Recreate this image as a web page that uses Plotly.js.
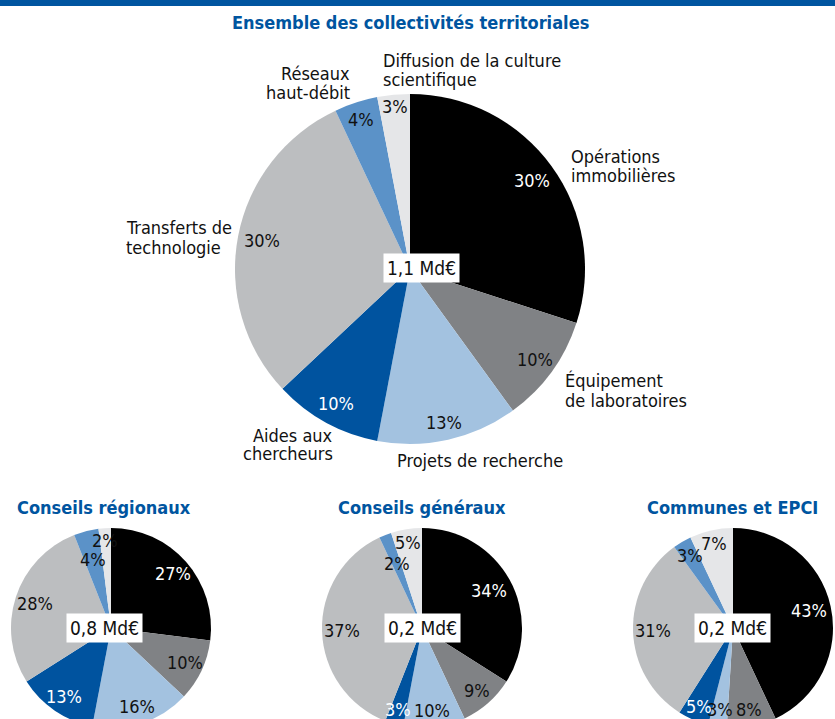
<!DOCTYPE html>
<html><head><meta charset="utf-8">
<script src="https://cdn.plot.ly/plotly-3.0.1.min.js"></script>
<style>html,body{margin:0;padding:0;overflow:hidden;background:#fff}#chart{width:835px;height:740px}
#chart text{font-stretch:condensed !important}</style>
</head><body><div id="chart"></div><script>
// ---- data ----
const categories = ["Opérations<br>immobilières","Équipement<br>de laboratoires","Projets de recherche","Aides aux<br>chercheurs","Transferts de<br>technologie","Réseaux<br>haut-débit","Diffusion de la culture<br>scientifique"];
const ensembleValues  = [30,10,13,10,30,4,3];
const regionauxValues = [27,10,16,13,28,4,2];
const generauxValues  = [34,9,10,3,37,2,5];
const communesValues  = [43,8,3,5,31,3,7];
const panelTitles = ["Ensemble des collectivités territoriales","Conseils régionaux","Conseils généraux","Communes et EPCI"];
const totals = ["1,1 Md€","0,8 Md€","0,2 Md€","0,2 Md€"];

// ---- style ----
const W = 835, H = 740;
const FONT = "'Liberation Sans Narrow', 'DejaVu Sans Condensed', 'DejaVu Sans', sans-serif";
const BLUE = "#0055a0";
const colors = ["#000000","#808285","#a3c2e0","#00539f","#bcbec0","#5b92c8","#e5e6e8"];
const textColors = ["#ffffff","#111","#111","#ffffff","#111","#111","#111"];
const panels = [
  {values: ensembleValues,  cx:410, cy:269, r:175, lr:[.86,.88,.9,.88,.86,.9,.93], tx:410, ty:22,  bx:421, by:268},
  {values: regionauxValues, cx:111, cy:628, r:100, lr:[.82,.82,.83,.83,.8,.71,.88], tx:104, ty:507, bx:104, by:628},
  {values: generauxValues,  cx:422, cy:628, r:100, lr:[.77,.83,.83,.85,.8,.69,.87], tx:422, ty:507, bx:422, by:628},
  {values: communesValues,  cx:733, cy:628, r:100, lr:[.78,.83,.83,.86,.8,.84,.87], tx:732, ty:507, bx:732, by:628}
];
const catLabels = [
  {x:569, y:156, anchor:"left"},
  {x:563, y:381, anchor:"left"},
  {x:480, y:460, anchor:"center"},
  {x:335, y:435, anchor:"right"},
  {x:124, y:228, anchor:"left"},
  {x:352, y:73,  anchor:"right"},
  {x:381, y:60,  anchor:"left"}
];
const LINE = 19;

const px = x => x / W, py = y => 1 - y / H;
const traces = [], annotations = [];

panels.forEach((p, k) => {
  traces.push({
    type: "pie", values: p.values, labels: categories, sort: false,
    direction: "clockwise", rotation: 0,
    marker: {colors: colors, line: {width: 0}},
    textinfo: "none", hoverinfo: "label+percent",
    domain: {x: [px(p.cx - p.r), px(p.cx + p.r)], y: [py(p.cy + p.r), py(p.cy - p.r)]}
  });
  const total = p.values.reduce((a, b) => a + b, 0);
  let cum = 0;
  p.values.forEach((v, i) => {
    const th = 2 * Math.PI * (cum + v / 2) / total;
    cum += v;
    const rr = p.r * p.lr[i];
    annotations.push({
      xref: "paper", yref: "paper", x: px(p.cx + rr * Math.sin(th)), y: py(p.cy - rr * Math.cos(th)),
      text: Math.round(100 * v / total) + "%", showarrow: false,
      xanchor: "center", yanchor: "middle",
      font: {family: FONT, size: 18, color: textColors[i]}
    });
  });
  annotations.push({
    xref: "paper", yref: "paper", x: px(p.tx), y: py(p.ty), text: "<b>" + panelTitles[k] + "</b>",
    showarrow: false, xanchor: "center", yanchor: "middle",
    font: {family: FONT, size: 18, color: BLUE}
  });
  annotations.push({
    xref: "paper", yref: "paper", x: px(p.bx), y: py(p.by), text: totals[k],
    showarrow: false, xanchor: "center", yanchor: "middle",
    bgcolor: "#ffffff", borderpad: 3,
    font: {family: FONT, size: 19, color: "#111"}
  });
});

categories.forEach((c, i) => {
  const L = catLabels[i];
  c.split("<br>").forEach((line, j) => {
    annotations.push({
      xref: "paper", yref: "paper", x: px(L.x), y: py(L.y + j * LINE), text: line,
      showarrow: false, xanchor: L.anchor, yanchor: "middle",
      font: {family: FONT, size: 18, color: "#111"}
    });
  });
});

const layout = {
  width: W, height: H, margin: {l: 0, r: 0, t: 0, b: 0},
  paper_bgcolor: "#ffffff", showlegend: false,
  shapes: [{type: "rect", xref: "paper", yref: "paper", x0: 0, x1: 1, y0: py(6), y1: 1, fillcolor: BLUE, line: {width: 0}}],
  annotations: annotations
};
Plotly.newPlot("chart", traces, layout, {displayModeBar: false, staticPlot: true});
</script></body></html>
